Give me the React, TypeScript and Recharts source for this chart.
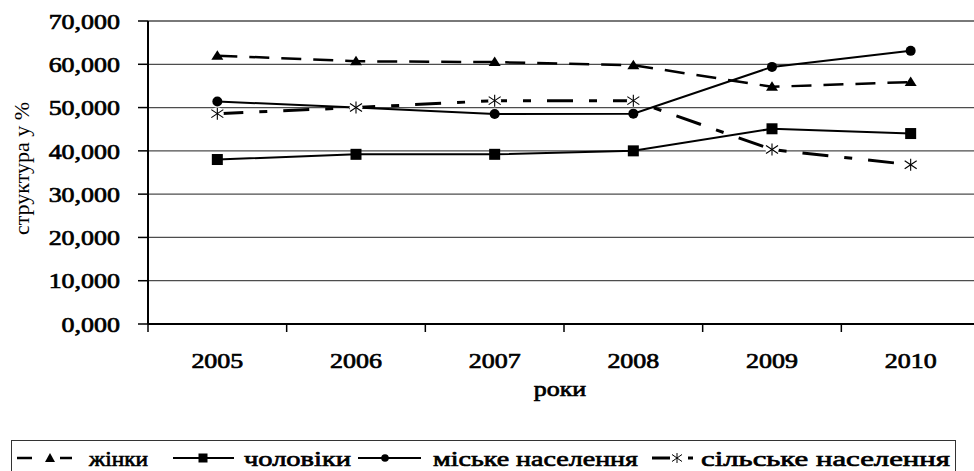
import React from 'react';
import { LineChart, Line, XAxis, YAxis, CartesianGrid, Legend, Label } from 'recharts';

const years = ['2005', '2006', '2007', '2008', '2009', '2010'];
const women = [62.0, 60.7, 60.5, 59.8, 54.8, 55.9];
const men = [38.0, 39.2, 39.2, 40.0, 45.1, 44.0];
const urban = [51.4, 50.0, 48.5, 48.6, 59.4, 63.1];
const rural = [48.6, 50.0, 51.6, 51.6, 40.3, 36.8];
const yTicks = [0, 10, 20, 30, 40, 50, 60, 70];
const seriesNames = ['жінки', 'чоловіки', 'міське населення', 'сільське населення'];
const yLabel = 'структура у %';
const xLabel = 'роки';

const data = years.map((y, i) => ({ year: y, women: women[i], men: men[i], urban: urban[i], rural: rural[i] }));

// legend layout (local x start and width of each label)
const LEGEND_TEXT_X = [77, 232, 421, 689];
const LEGEND_TEXT_W = [59, 107, 205, 249];

const FONT = '"Liberation Serif", "Times New Roman", serif';
const SX = 1.18;
// faux-bold text style (stroke thickens the regular serif face)
const BOLD = { fontFamily: FONT, fontSize: 22, fill: '#000', stroke: '#000', strokeWidth: 0.7 } as const;

const fmt = (v: number) => v.toFixed(3).replace('.', ',');

const YTick = (props: any) => {
  const { x, y, payload } = props;
  return (
    <text transform={`translate(${x},${y}) scale(${SX},1)`} textAnchor="end" dy="0.35em" {...BOLD}>
      {fmt(payload.value)}
    </text>
  );
};

const XTick = (props: any) => {
  const { x, y, payload } = props;
  const off = payload && payload.offset ? payload.offset : 69.33;
  return (
    <g>
      <line x1={x - off} x2={x - off} y1={y} y2={y + 8} stroke="#000" strokeWidth={1.5} />
      <text transform={`translate(${x},${y + 36}) scale(${SX},1)`} textAnchor="middle" dy="0.35em" {...BOLD}>
        {payload.value}
      </text>
    </g>
  );
};

const TriangleDot = (props: any) => {
  const { cx, cy } = props;
  if (cx == null || cy == null) return null;
  return <path d={`M${cx},${cy - 5.5} L${cx + 6},${cy + 4} L${cx - 6},${cy + 4} Z`} fill="#000" />;
};
const SquareDot = (props: any) => {
  const { cx, cy } = props;
  if (cx == null || cy == null) return null;
  return <rect x={cx - 5.5} y={cy - 5.5} width={11} height={11} fill="#000" />;
};
const CircleDot = (props: any) => {
  const { cx, cy } = props;
  if (cx == null || cy == null) return null;
  return <circle cx={cx} cy={cy} r={5} fill="#000" />;
};
const StarDot = (props: any) => {
  const { cx, cy } = props;
  if (cx == null || cy == null) return null;
  return (
    <g>
      <circle cx={cx} cy={cy} r={6.5} fill="#fff" />
      <line x1={cx} y1={cy - 6} x2={cx} y2={cy + 6} stroke="#000" strokeWidth={1.1} />
      <line x1={cx - 6} y1={cy - 4} x2={cx + 6} y2={cy + 4} stroke="#000" strokeWidth={1.1} />
      <line x1={cx - 6} y1={cy + 4} x2={cx + 6} y2={cy - 4} stroke="#000" strokeWidth={1.1} />
    </g>
  );
};

const LegendContent = () => {
  const ty = 17;
  const txt = (i: number) => (
    <text x={LEGEND_TEXT_X[i]} y={ty} dy="0.35em" textLength={LEGEND_TEXT_W[i]} lengthAdjust="spacingAndGlyphs" {...BOLD}>
      {seriesNames[i]}
    </text>
  );
  return (
    <div style={{ width: 945, height: 40, borderTop: '1.5px solid #333', borderLeft: '1.5px solid #333', borderRight: '1.5px solid #333', boxSizing: 'border-box', background: '#fff' }}>
      <svg width={942} height={38} style={{ display: 'block' }}>
        <line x1={5} x2={20} y1={ty} y2={ty} stroke="#000" strokeWidth={2.5} />
        <path d={`M38,${ty - 5} L43,${ty + 4} L33,${ty + 4} Z`} fill="#000" />
        <line x1={48} x2={60} y1={ty} y2={ty} stroke="#000" strokeWidth={2.5} />
        {txt(0)}
        <line x1={161} x2={222} y1={ty} y2={ty} stroke="#000" strokeWidth={2} />
        <rect x={186.5} y={ty - 4.5} width={9} height={9} fill="#000" />
        {txt(1)}
        <line x1={346} x2={409} y1={ty} y2={ty} stroke="#000" strokeWidth={2} />
        <circle cx={373} cy={ty} r={3.8} fill="#000" />
        {txt(2)}
        <line x1={640} x2={658} y1={ty} y2={ty} stroke="#000" strokeWidth={3} />
        <g stroke="#000" strokeWidth={1}>
          <line x1={665} y1={ty - 5} x2={665} y2={ty + 5} />
          <line x1={660} y1={ty - 3.5} x2={670} y2={ty + 3.5} />
          <line x1={660} y1={ty + 3.5} x2={670} y2={ty - 3.5} />
        </g>
        <line x1={676} x2={681} y1={ty} y2={ty} stroke="#000" strokeWidth={3} />
        {txt(3)}
      </svg>
    </div>
  );
};

const YLabelContent = (props: any) => {
  const vb = props.viewBox || { x: 0, y: 21, width: 148, height: 303 };
  const cx = vb.x + 21;
  const cy = vb.y + vb.height / 2 - 4;
  return (
    <text x={cx} y={cy} transform={`rotate(-90,${cx},${cy})`} textAnchor="middle" dy="0.35em"
      fontFamily={FONT} fontSize={22} fill="#000">{yLabel}</text>
  );
};

const XLabelContent = (props: any) => {
  const vb = props.viewBox || { x: 148, y: 324, width: 832, height: 147 };
  const cx = vb.x + vb.width / 2 - 4;
  const cy = vb.y + 64;
  return (
    <text transform={`translate(${cx},${cy}) scale(${SX},1)`} textAnchor="middle" dy="0.35em" {...BOLD}>{xLabel}</text>
  );
};

export default function App() {
  return (
    <div style={{ position: 'absolute', left: 0, top: 0, width: 974, height: 471, overflow: 'hidden', background: '#fff' }}>
      <LineChart width={990} height={471} data={data} margin={{ top: 21, right: 10, bottom: 0, left: 0 }}>
        <CartesianGrid vertical={false} stroke="#4d4d4d" strokeWidth={1.3} />
        <XAxis dataKey="year" scale="band" height={147} axisLine={{ stroke: '#000', strokeWidth: 2 }}
          tickLine={false} tickSize={0} tickMargin={0} tick={<XTick />} interval={0}>
          <Label content={<XLabelContent />} />
        </XAxis>
        <YAxis width={148} domain={[0, 70]} ticks={yTicks} type="number" interval={0}
          axisLine={{ stroke: '#000', strokeWidth: 2 }} tickLine={{ stroke: '#000', strokeWidth: 1.5 }}
          tickSize={10} tickMargin={18} tick={<YTick />}>
          <Label content={<YLabelContent />} />
        </YAxis>
        <Line dataKey="women" name={seriesNames[0]} stroke="#000" strokeWidth={2.5} strokeDasharray="20 12"
          dot={TriangleDot} activeDot={false} isAnimationActive={false} />
        <Line dataKey="men" name={seriesNames[1]} stroke="#000" strokeWidth={2}
          dot={SquareDot} activeDot={false} isAnimationActive={false} />
        <Line dataKey="urban" name={seriesNames[2]} stroke="#000" strokeWidth={2}
          dot={CircleDot} activeDot={false} isAnimationActive={false} />
        <Line dataKey="rural" name={seriesNames[3]} stroke="#000" strokeWidth={3} strokeDasharray="26 16 8 16"
          dot={StarDot} activeDot={false} isAnimationActive={false} />
        <Legend layout="horizontal" verticalAlign="middle" align="center" content={<LegendContent />}
          wrapperStyle={{ position: 'absolute', left: 11, top: 440, width: 945, height: 40 }} />
      </LineChart>
    </div>
  );
}
